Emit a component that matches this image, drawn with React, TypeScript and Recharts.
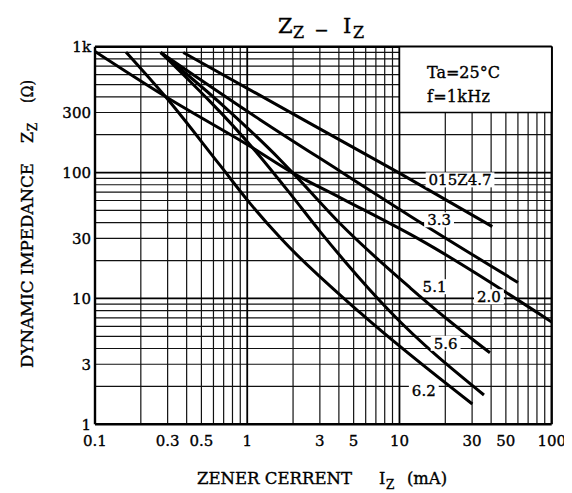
import React from 'react';
import { LineChart, Line, XAxis, YAxis, CartesianGrid, ReferenceArea, ReferenceDot } from 'recharts';

const FONT = "'DejaVu Serif', 'Liberation Serif', serif";

// axis ticks
const xTickValues = [0.1, 0.3, 0.5, 1, 3, 5, 10, 30, 50, 100];
const yTickValues = [1, 3, 10, 30, 100, 300, 1000];

// grid values
const xMinor = [0.2, 0.3, 0.4, 0.5, 0.6, 0.7, 0.8, 0.9, 2, 3, 4, 5, 6, 7, 8, 9, 20, 30, 40, 50, 60, 70, 80, 90];
const xMajor = [1, 10];
const xFrame = [0.1, 100];
const yMinor = [2, 3, 4, 5, 6, 7, 8, 9, 20, 30, 40, 50, 60, 70, 80, 90, 200, 300, 400, 500, 600, 700, 800, 900];
const yMajor = [10, 100];
const yFrame = [1, 1000];

// series: zener current Iz (mA) and dynamic impedance Zz (ohm)
const z47I = [0.38, 2.35, 10, 40.7];
const z47Z = [900, 262, 99, 37.2];
const z33I = [0.27, 1.22, 4.1, 11.8, 60];
const z33Z = [900, 262, 102, 45, 13.4];
const z20I = [0.1, 0.29, 1.05, 2.0, 4.1, 13.7, 100];
const z20Z = [916, 402, 161, 99, 63, 29.2, 6.5];
const z51I = [0.27, 0.72, 1.65, 2.0, 4.1, 11.8, 21.7, 39.3];
const z51Z = [900, 327, 126, 99, 39, 12.1, 6.5, 3.7];
const z56I = [0.27, 1.19, 1.92, 3.02, 4.41, 8.73, 35.9];
const z56Z = [900, 138, 67.7, 33.8, 19.5, 7.8, 1.71];
const z62I = [0.16, 0.29, 0.66, 1.05, 1.65, 5.54, 30.1];
const z62Z = [906, 402, 115, 56.4, 30.3, 7.67, 1.45];

// curve labels
const curveLabels = ['015Z4.7', '3.3', '2.0', '5.1', '5.6', '6.2'];
const labelI = [25, 18.2, 38.7, 17.0, 20.1, 14.45];
const labelZ = [87.5, 42.1, 10.3, 12.4, 4.4, 1.87];

// condition box
const boxI = [10, 100];
const boxZ = [300, 1000];
const condLines = ['Ta=25°C', 'f=1kHz'];

const toData = (is: number[], zs: number[]) => is.map((i, k) => ({ i, z: zs[k] }));
const curves = [
  toData(z47I, z47Z),
  toData(z33I, z33Z),
  toData(z20I, z20Z),
  toData(z51I, z51Z),
  toData(z56I, z56Z),
  toData(z62I, z62Z),
];

const TXT = { fill: '#000', stroke: '#000', strokeWidth: 0.35 };

const charW = (ch: string) => (ch === '.' ? 0.318 : ch === 'Z' ? 0.685 : 0.636);
const textW = (s: string, fs: number) => s.split('').reduce((a, c) => a + charW(c), 0) * fs;

const makeCurveLabel = (text: string) => (props: any) => {
  const vb = props.viewBox || { x: 0, y: 0, width: 0, height: 0 };
  const cx = vb.x + (vb.width || 0) / 2;
  const cy = vb.y + (vb.height || 0) / 2;
  const fs = 15;
  const w = textW(text, fs);
  return (
    <g>
      <rect x={cx - w / 2 - 3} y={cy - 7.5} width={w + 6} height={15} fill="#fff" />
      <text x={cx} y={cy + 5.5} textAnchor="middle" fontSize={fs} fontFamily={FONT} {...TXT}>
        {text}
      </text>
    </g>
  );
};

const boxLabel = (props: any) => {
  const vb = props.viewBox || { x: 0, y: 0 };
  return (
    <g>
      <text x={vb.x + 27.5} y={vb.y + 31.3} fontSize={16} fontFamily={FONT} {...TXT} textLength={73} lengthAdjust="spacing">
        {condLines[0]}
      </text>
      <text x={vb.x + 27.5} y={vb.y + 55.3} fontSize={16} fontFamily={FONT} {...TXT} textLength={63} lengthAdjust="spacing">
        {condLines[1]}
      </text>
    </g>
  );
};

const W = 564;
const H = 485;
const YW = 40;
const XH = 30;

export default function App() {
  return (
    <div style={{ position: 'relative', width: W, height: H, fontFamily: FONT, background: '#fff' }}>
      <LineChart width={W} height={H} margin={{ top: 38.7, right: 20.3, bottom: 68.7 - XH, left: 87 - YW }}>
        <CartesianGrid horizontalValues={yMinor} verticalValues={xMinor} stroke="#111" strokeWidth={1.2} fill="none" />
        <CartesianGrid horizontalValues={yMajor} verticalValues={xMajor} stroke="#000" strokeWidth={1.8} fill="none" />
        <CartesianGrid horizontalValues={yFrame} verticalValues={xFrame} stroke="#000" strokeWidth={2.4} fill="none" />
        <XAxis
          dataKey="i"
          type="number"
          scale="log"
          domain={[0.1, 100]}
          allowDataOverflow
          ticks={xTickValues}
          interval={0}
          height={XH}
          axisLine={false}
          tickLine={false}
          tickSize={0}
          tickMargin={11}
          tickFormatter={(v: number) => String(v)}
          tick={{ fontSize: 15, fontFamily: FONT, ...TXT }}
        />
        <YAxis
          type="number"
          scale="log"
          domain={[1, 1000]}
          allowDataOverflow
          ticks={yTickValues}
          interval={0}
          width={YW}
          axisLine={false}
          tickLine={false}
          tickSize={0}
          tickMargin={4}
          tickFormatter={(v: number) => (v === 1000 ? '1k' : String(v))}
          tick={{ fontSize: 15, fontFamily: FONT, ...TXT }}
        />
        <ReferenceArea
          x1={boxI[0]}
          x2={boxI[1]}
          y1={boxZ[0]}
          y2={boxZ[1]}
          fill="#fff"
          fillOpacity={1}
          stroke="#000"
          strokeWidth={1.5}
          label={boxLabel}
        />
        {curves.map((d, k) => (
          <Line
            key={k}
            data={d}
            dataKey="z"
            type="monotone"
            stroke="#000"
            strokeWidth={3}
            dot={false}
            activeDot={false}
            isAnimationActive={false}
          />
        ))}
        {curveLabels.map((t, k) => (
          <ReferenceDot key={t} x={labelI[k]} y={labelZ[k]} r={1} fill="none" stroke="none" label={makeCurveLabel(t)} />
        ))}
      </LineChart>
      <svg width={W} height={H} style={{ position: 'absolute', left: 0, top: 0, pointerEvents: 'none' }}>
        <g fontFamily={FONT} {...TXT}>
          <text x={270} y={25} fontSize={21}>Z</text>
          <text x={285} y={30} fontSize={16}>Z</text>
          <text x={307} y={28} fontSize={21} textLength={13} lengthAdjust="spacingAndGlyphs">–</text>
          <text x={335} y={25} fontSize={21}>I</text>
          <text x={345} y={30} fontSize={16}>Z</text>

          <text x={189} y={476} fontSize={16} textLength={155} lengthAdjust="spacingAndGlyphs">ZENER CERRENT</text>
          <text x={371} y={476} fontSize={16}>I</text>
          <text x={378} y={481} fontSize={12}>Z</text>
          <text x={399} y={476} fontSize={16} textLength={40} lengthAdjust="spacingAndGlyphs">(mA)</text>

          <g transform="translate(25,360) rotate(-90)">
            <text x={0} y={0} fontSize={16} textLength={205} lengthAdjust="spacingAndGlyphs">DYNAMIC IMPEDANCE</text>
            <text x={225} y={0} fontSize={16}>Z</text>
            <text x={237} y={4} fontSize={12}>Z</text>
            <text x={265} y={0} fontSize={16} textLength={23} lengthAdjust="spacingAndGlyphs">(Ω)</text>
          </g>
        </g>
      </svg>
    </div>
  );
}
